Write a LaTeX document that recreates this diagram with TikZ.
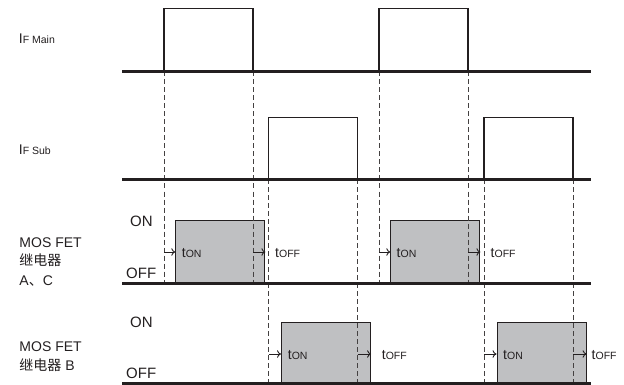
\documentclass[tikz,border=0pt]{standalone}
\usepackage{fontspec}
\setmainfont{Liberation Sans}
\newfontfamily\cjk{Noto Sans CJK SC}
\usetikzlibrary{arrows.meta}
\definecolor{boxgray}{RGB}{191,192,194}
\definecolor{ink}{RGB}{35,31,32}
\begin{document}
\begin{tikzpicture}[x=1pt,y=-1pt,
  base/.style={line width=3pt, draw=ink},
  pulse/.style={line width=1.1pt, draw=ink},
  guide/.style={line width=0.9pt, draw=ink!85, dash pattern=on 5pt off 3pt},
  relay/.style={draw=ink, line width=1.1pt, fill=boxgray, inner sep=0pt, anchor=south west, minimum width=89pt},
  tarrow/.style={-{To[length=4pt,width=7.5pt]}, line width=0.9pt, draw=ink},
  lbl/.style={anchor=base west, inner sep=0pt, text=ink, font=\fontsize{14}{16}\selectfont},
  onoff/.style={anchor=base west, inner sep=0pt, text=ink, font=\fontsize{15}{17}\selectfont}
]
\useasboundingbox (0,0) rectangle (624,385);

% ---------- relay boxes (drawn first) ----------
\node[relay, minimum height=62.3pt] (ac1) at (175.3,283.3) {};
\node[relay, minimum height=62.3pt] (ac2) at (390.3,283.3) {};
\node[relay, minimum height=61pt] (b1) at (281,383.7) {};
\node[relay, minimum height=61pt] (b2) at (496.5,383.7) {};

% ---------- guide coordinates ----------
\coordinate (m1t) at (164,71.5);   \coordinate (m1b) at (164,283.3);
\coordinate (m2t) at (253,71.5);   \coordinate (m2b) at (253,283.3);
\coordinate (m3t) at (379,71.5);   \coordinate (m3b) at (379,283.3);
\coordinate (m4t) at (468,71.5);   \coordinate (m4b) at (468,283.3);
\coordinate (s1t) at (268.7,179.3); \coordinate (s1b) at (268.7,385);
\coordinate (s2t) at (357.7,179.3); \coordinate (s2b) at (357.7,385);
\coordinate (s3t) at (484,179.3);   \coordinate (s3b) at (484,385);
\coordinate (s4t) at (573,179.3);   \coordinate (s4b) at (573,385);

\foreach \g in {m1,m2,m3,m4,s1,s2,s3,s4}
  \draw[guide] (\g t) -- (\g b);

% ---------- pulses ----------
\draw[pulse] (m1t) -- (164,8.5) -- (253,8.5) -- (m2t);
\draw[pulse] (m3t) -- (379,8.5) -- (468,8.5) -- (m4t);
\draw[pulse] (s1t) -- (268.7,117.7) -- (357.7,117.7) -- (s2t);
\draw[pulse] (s3t) -- (484,117.7) -- (573,117.7) -- (s4t);

% ---------- baselines ----------
\coordinate (L1) at (122,71.5);  \coordinate (R1) at (591,71.5);
\coordinate (L2) at (122,179.3); \coordinate (R2) at (591,179.3);
\coordinate (L3) at (122,283.3); \coordinate (R3) at (591,283.3);
\coordinate (L4) at (122,383.7); \coordinate (R4) at (591,383.7);
\draw[base] (L1) -- (R1);
\draw[base] (L2) -- (R2);
\draw[base] (L3) -- (R3);
\draw[base] (L4) -- (R4);

% ---------- delay arrows ----------
\coordinate (a1) at (164,252);   \draw[tarrow] (a1) -- (a1 -| ac1.west);
\coordinate (a2) at (253,252);   \draw[tarrow] (a2) -- (a2 -| ac1.east);
\coordinate (a3) at (379,252);   \draw[tarrow] (a3) -- (a3 -| ac2.west);
\coordinate (a4) at (468,252);   \draw[tarrow] (a4) -- (a4 -| ac2.east);
\coordinate (b1s) at (268.7,354); \draw[tarrow] (b1s) -- (b1s -| b1.west);
\coordinate (b2s) at (357.7,354); \draw[tarrow] (b2s) -- (b2s -| b1.east);
\coordinate (b3s) at (484,354);   \draw[tarrow] (b3s) -- (b3s -| b2.west);
\coordinate (b4s) at (573,354);   \draw[tarrow] (b4s) -- (b4s -| b2.east);

% ---------- t labels ----------
\newcommand{\tON}{{\fontsize{14}{16}\selectfont t}{\fontsize{10.5}{12}\selectfont ON}}
\newcommand{\tOFF}{{\fontsize{14}{16}\selectfont t}{\fontsize{10.5}{12}\selectfont OFF}}
\node[lbl] (ton1) at (181.7,257.3) {\tON};
\node[lbl] (toff1) at (275,257.3) {\tOFF};
\node[lbl] (ton2) at (396.5,257.3) {\tON};
\node[lbl] (toff2) at (490.5,257.3) {\tOFF};
\node[lbl] (ton3) at (287.7,359.3) {\tON};
\node[lbl] (toff3) at (381.7,359.3) {\tOFF};
\node[lbl] (ton4) at (503,359.3) {\tON};
\node[lbl] (toff4) at (591.5,359.3) {\tOFF};

% ---------- left labels ----------
\node[lbl] (ifmain) at (18.7,43.7) {{\fontsize{14}{16}\selectfont I}{\fontsize{10.5}{12}\selectfont F Main}};
\node[lbl] (ifsub) at (18.7,155) {{\fontsize{14}{16}\selectfont I}{\fontsize{10.5}{12}\selectfont F Sub}};

\node[lbl] (mosac1) at (19.3,247) {MOS FET};
\node[lbl] (mosac2) at (19.3,265.7) {\cjk 继电器};
\node[lbl] (mosac3) at (19.3,285) {A{\cjk 、}C};
\node[lbl] (mosb1) at (19.3,351.7) {MOS FET};
\node[lbl] (mosb2) at (19.3,370) {{\cjk 继电器} B};

\node[onoff] (on1) at (130,226.7) {ON};
\node[onoff] (off1) at (126,278) {OFF};
\node[onoff] (on2) at (130,327.7) {ON};
\node[onoff] (off2) at (126,378.3) {OFF};
\end{tikzpicture}
\end{document}
